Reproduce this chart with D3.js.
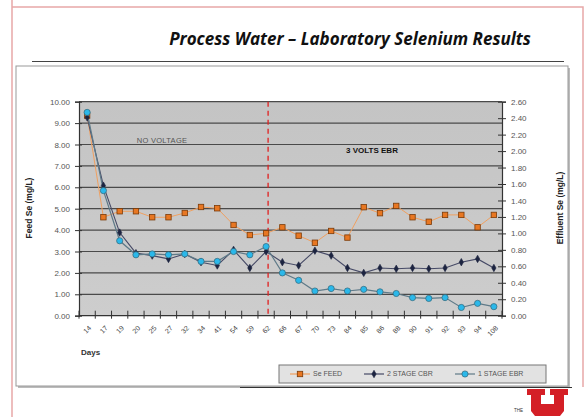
<!DOCTYPE html>
<html>
<head>
<meta charset="utf-8">
<script src="https://cdn.jsdelivr.net/npm/d3@7"></script>
<style>
  body { margin: 0; background: #fff; }
  svg { display: block; font-family: "Liberation Sans", Arial, sans-serif; }
</style>
</head>
<body>
<script>
// categories (days) on the x axis
let days = ["14", "17", "19", "20", "25", "27", "32", "34", "41", "54", "59", "62", "66",
  "67", "70", "73", "84", "85", "86", "88", "90", "91", "92", "93", "94", "108"];

// Se FEED, read on the left axis (mg/L)
let feedSe = [9.35, 4.60, 4.88, 4.88, 4.60, 4.60, 4.80, 5.08, 5.02, 4.24, 3.77, 3.85, 4.13,
  3.74, 3.41, 3.96, 3.65, 5.07, 4.79, 5.13, 4.60, 4.39, 4.71, 4.71, 4.13, 4.71];

// 2 STAGE CBR, read on the right axis (mg/L)
let twoStageCbr = [2.41, 1.58, 1.01, 0.76, 0.73, 0.69, 0.75, 0.65, 0.61, 0.80, 0.58, 0.78, 0.65,
  0.61, 0.79, 0.73, 0.58, 0.52, 0.58, 0.57, 0.58, 0.57, 0.58, 0.65, 0.69, 0.58];

// 1 STAGE EBR, read on the right axis (mg/L)
let oneStageEbr = [2.47, 1.52, 0.91, 0.74, 0.75, 0.74, 0.75, 0.66, 0.66, 0.78, 0.74, 0.84, 0.52,
  0.43, 0.30, 0.33, 0.30, 0.32, 0.29, 0.27, 0.22, 0.21, 0.22, 0.10, 0.15, 0.11];

let leftTicks = [0, 1, 2, 3, 4, 5, 6, 7, 8, 9, 10];
let rightTicks = [0, 0.2, 0.4, 0.6, 0.8, 1.0, 1.2, 1.4, 1.6, 1.8, 2.0, 2.2, 2.4, 2.6];
let voltageChangeDay = "62";

let svgWidth = 587;
let svgHeight = 417;

// plot area inside the slide
let plot = { left: 79, right: 502, top: 101.7, bottom: 315.7 };

let svg = d3.select("body")
  .append("svg")
  .attr("width", svgWidth)
  .attr("height", svgHeight);

let defs = svg.append("defs");
let grad = defs.append("linearGradient")
  .attr("id", "plotBg")
  .attr("x1", 0).attr("y1", 0).attr("x2", 0).attr("y2", 1);
grad.append("stop").attr("offset", "0%").attr("stop-color", "#c4c4c4");
grad.append("stop").attr("offset", "100%").attr("stop-color", "#cdcdcd");

// slide frame (pink lines)
svg.append("path")
  .attr("d", "M12,0 V417 M12,7 H583 V387")
  .attr("fill", "none")
  .attr("stroke", "#e8a8a8")
  .attr("stroke-width", 1.5);

// title
svg.append("text")
  .attr("x", 350)
  .attr("y", 45)
  .attr("text-anchor", "middle")
  .style("font-family", "'Open Sans', sans-serif")
  .style("font-style", "italic")
  .style("font-weight", "700")
  .style("font-size", "17px")
  .attr("fill", "#111")
  .text("Process Water \u2013 Laboratory Selenium Results");

svg.append("line")
  .attr("x1", 32).attr("x2", 564)
  .attr("y1", 61.5).attr("y2", 61.5)
  .attr("stroke", "#444")
  .attr("stroke-width", 1);

// chart box with a little shadow
svg.append("rect")
  .attr("x", 18).attr("y", 68)
  .attr("width", 552).attr("height", 320)
  .attr("fill", "#bbb");
svg.append("rect")
  .attr("x", 16).attr("y", 66)
  .attr("width", 552).attr("height", 320)
  .attr("fill", "#fff")
  .attr("stroke", "#999")
  .attr("stroke-width", 1);

// scales
let xScale = d3.scaleBand()
  .domain(days)
  .range([plot.left, plot.right]);

let yLeft = d3.scaleLinear()
  .domain([0, 10])
  .range([plot.bottom, plot.top]);

let yRight = d3.scaleLinear()
  .domain([0, 2.6])
  .range([plot.bottom, plot.top]);

let cx = d => xScale(d) + xScale.bandwidth() / 2;

// plot background
svg.append("rect")
  .attr("x", plot.left).attr("y", plot.top)
  .attr("width", plot.right - plot.left)
  .attr("height", plot.bottom - plot.top)
  .attr("fill", "url(#plotBg)");

// gridlines on the left axis values
svg.append("g")
  .selectAll("line")
  .data(leftTicks.filter(v => v > 0))
  .enter()
  .append("line")
  .attr("x1", plot.left).attr("x2", plot.right)
  .attr("y1", d => yLeft(d)).attr("y2", d => yLeft(d))
  .attr("stroke", "#4a4a4a")
  .attr("stroke-width", 1.2);

// left axis
let leftAxis = svg.append("g")
  .attr("transform", `translate(${plot.left},0)`)
  .call(d3.axisLeft(yLeft).tickValues(leftTicks).tickFormat(d3.format(".2f")).tickSize(4).tickPadding(5));
leftAxis.selectAll(".tick line").attr("x1", 3).attr("x2", -4);

// right axis
let rightAxis = svg.append("g")
  .attr("transform", `translate(${plot.right},0)`)
  .call(d3.axisRight(yRight).tickValues(rightTicks).tickFormat(d3.format(".2f")).tickSize(4).tickPadding(5));
rightAxis.selectAll(".tick line").attr("x1", -4).attr("x2", 4);

[leftAxis, rightAxis].forEach(ax => {
  ax.select(".domain").attr("stroke", "#333").attr("stroke-width", 1.2);
  ax.selectAll(".tick line").attr("stroke", "#333");
  ax.selectAll("text")
    .attr("fill", "#555")
    .style("font-size", "8px")
    .style("font-family", "'Liberation Sans', Arial, sans-serif");
});

// bottom axis: ticks between categories
let bottomAxis = svg.append("g");
bottomAxis.append("line")
  .attr("x1", plot.left).attr("x2", plot.right)
  .attr("y1", plot.bottom).attr("y2", plot.bottom)
  .attr("stroke", "#333")
  .attr("stroke-width", 1.2);
bottomAxis.selectAll(".xtick")
  .data(days.map(d => xScale(d)).concat([plot.right]))
  .enter()
  .append("line")
  .attr("x1", d => d).attr("x2", d => d)
  .attr("y1", plot.bottom - 5).attr("y2", plot.bottom + 3)
  .attr("stroke", "#333");
bottomAxis.selectAll(".xlabel")
  .data(days)
  .enter()
  .append("text")
  .attr("transform", d => `translate(${cx(d) + 3},${plot.bottom + 11}) rotate(-45)`)
  .attr("text-anchor", "end")
  .attr("dy", "0.35em")
  .attr("fill", "#444")
  .style("font-size", "7px")
  .text(d => d);

// voltage change marker
let changeX = cx(voltageChangeDay) + 2;
svg.append("line")
  .attr("x1", changeX).attr("x2", changeX)
  .attr("y1", plot.top).attr("y2", plot.bottom)
  .attr("stroke", "#e02020")
  .attr("stroke-width", 1.3)
  .attr("stroke-dasharray", "5,4");

// annotations
svg.append("text")
  .attr("x", 162).attr("y", 143)
  .attr("text-anchor", "middle")
  .attr("fill", "#555")
  .style("font-size", "7.5px")
  .style("letter-spacing", "0.3px")
  .text("NO VOLTAGE");

svg.append("text")
  .attr("x", 372).attr("y", 153)
  .attr("text-anchor", "middle")
  .attr("fill", "#111")
  .style("font-size", "8px")
  .style("font-weight", "bold")
  .text("3 VOLTS EBR");

// series
let series = [
  { name: "Se FEED", values: feedSe, y: yLeft, line: "#f0a060", lineWidth: 1, shape: "square", fill: "#e87722", stroke: "#7a3a08" },
  { name: "2 STAGE CBR", values: twoStageCbr, y: yRight, line: "#464a66", lineWidth: 1.1, shape: "diamond", fill: "#1c2440", stroke: "#1c2440" },
  { name: "1 STAGE EBR", values: oneStageEbr, y: yRight, line: "#5f7a88", lineWidth: 1.2, shape: "circle", fill: "#2bb8ea", stroke: "#336677" }
];

function drawMarker(g, s, x, y) {
  if (s.shape === "square") {
    g.append("rect")
      .attr("x", x - 2.7).attr("y", y - 2.7)
      .attr("width", 5.4).attr("height", 5.4)
      .attr("fill", s.fill).attr("stroke", s.stroke).attr("stroke-width", 0.8);
  } else if (s.shape === "diamond") {
    g.append("path")
      .attr("d", d3.symbol().type(d3.symbolDiamond).size(16)())
      .attr("transform", `translate(${x},${y})`)
      .attr("fill", s.fill).attr("stroke", s.stroke).attr("stroke-width", 0.6);
  } else {
    g.append("circle")
      .attr("cx", x).attr("cy", y).attr("r", 3.1)
      .attr("fill", s.fill).attr("stroke", s.stroke).attr("stroke-width", 0.7);
  }
}

series.forEach(s => {
  let drawLine = d3.line()
    .x((d, i) => cx(days[i]))
    .y(d => s.y(d));
  svg.append("path")
    .attr("d", drawLine(s.values))
    .attr("fill", "none")
    .attr("stroke", s.line)
    .attr("stroke-width", s.lineWidth);
});

series.forEach(s => {
  let g = svg.append("g");
  s.values.forEach((v, i) => drawMarker(g, s, cx(days[i]), s.y(v)));
});

// axis titles
svg.append("text")
  .attr("transform", "translate(32,208) rotate(-90)")
  .attr("text-anchor", "middle")
  .attr("fill", "#222")
  .style("font-size", "8.5px")
  .style("font-weight", "bold")
  .text("Feed Se (mg/L)");

svg.append("text")
  .attr("transform", "translate(563,208) rotate(-90)")
  .attr("text-anchor", "middle")
  .attr("fill", "#222")
  .style("font-size", "8.5px")
  .style("font-weight", "bold")
  .text("Effluent Se (mg/L)");

svg.append("text")
  .attr("x", 81).attr("y", 355)
  .attr("fill", "#333")
  .style("font-size", "8px")
  .style("font-weight", "bold")
  .text("Days");

// legend
let legend = svg.append("g");
legend.append("rect")
  .attr("x", 279).attr("y", 365)
  .attr("width", 267).attr("height", 18)
  .attr("fill", "#e2e2e2")
  .attr("stroke", "#777");
let legendX = [290, 364, 455];
series.forEach((s, i) => {
  let lx = legendX[i];
  legend.append("line")
    .attr("x1", lx).attr("x2", lx + 20)
    .attr("y1", 374).attr("y2", 374)
    .attr("stroke", s.line)
    .attr("stroke-width", 1.2);
  drawMarker(legend, s, lx + 10, 374);
  legend.append("text")
    .attr("x", lx + 23).attr("y", 374)
    .attr("dy", "0.35em")
    .attr("fill", "#555")
    .style("font-size", "7px")
    .text(s.name);
});

// bottom line of the slide
svg.append("line")
  .attr("x1", 240).attr("x2", 572)
  .attr("y1", 387.5).attr("y2", 387.5)
  .attr("stroke", "#333");

// university logo
svg.append("path")
  .attr("d", "M527,389 H545 V395 H541 V404 H554 V395 H550 V389 H568 V395 H564 V411 L560,416 H535 L531,411 V395 H527 Z")
  .attr("fill", "#d41f26");
svg.append("text")
  .attr("x", 514).attr("y", 412)
  .attr("fill", "#333")
  .style("font-size", "4.5px")
  .text("THE");
</script>
</body>
</html>
